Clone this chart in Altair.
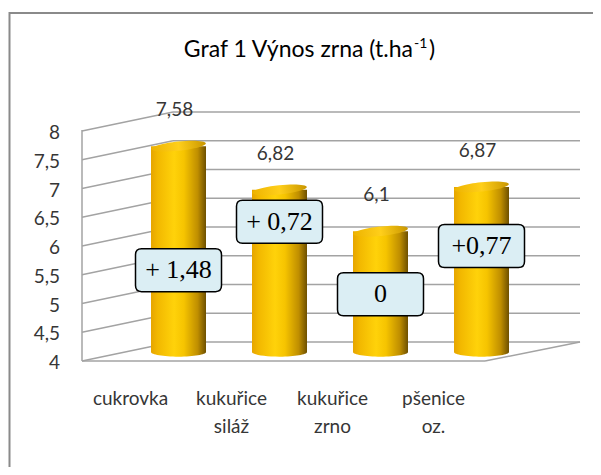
import altair as alt
import pandas as pd

# ---- data ----
categories = ["cukrovka", "kukuřice\nsiláž", "kukuřice\nzrno", "pšenice\noz."]
yields = [7.58, 6.82, 6.1, 6.87]
diff_labels = ["+ 1,48", "+ 0,72", "0", "+0,77"]
diff_anchor = [5.25, 6.09, 4.83, 5.67]          # where the annotation boxes sit (t/ha)
y_ticks = [4, 4.5, 5, 5.5, 6, 6.5, 7, 7.5, 8]
y_tick_labels = ["4", "4,5", "5", "5,5", "6", "6,5", "7", "7,5", "8"]
title_main = "Graf 1 Výnos zrna (t.ha"
title_sup = "-1"
title_end = ")"

df = pd.DataFrame({
    "cat": categories,
    "value": yields,
    "label": [f"{v:g}".replace(".", ",") for v in yields],
    "diff": diff_labels,
    "anchor": diff_anchor,
})
grid_df = pd.DataFrame({"tick": y_ticks, "tlabel": y_tick_labels})
one = pd.DataFrame({"k": [0]})

# ---- styling ----
W, H = 498, 230
GRID = "#A3A3A3"
TXT = "#363636"
FONT = "Lato"

def grad(stops):
    return {"gradient": "linear", "x1": 0, "x2": 1, "y1": 0, "y2": 0,
            "stops": [{"offset": o, "color": c} for o, c in stops]}

BODY = grad([(0, "#E6A500"), (0.12, "#F2B800"), (0.42, "#FFD20A"),
             (0.6, "#F6C400"), (0.85, "#BF8E00"), (1, "#6E5000")])
TOP = grad([(0, "#EDB300"), (0.5, "#FFCF1A"), (1, "#C99600")])

k = 0.5523
r = 0.17
ELLIPSE = (f"M-1,0 C-1,{-r*k:.4f} {-k:.4f},{-r} 0,{-r} "
           f"C{k:.4f},{-r} 1,{-r*k:.4f} 1,0 "
           f"C1,{r*k:.4f} {k:.4f},{r} 0,{r} "
           f"C{-k:.4f},{r} -1,{r*k:.4f} -1,0 Z")
BOX = ("M-0.86,-0.5 L0.86,-0.5 Q1,-0.5 1,-0.36 L1,0.36 Q1,0.5 0.86,0.5 "
       "L-0.86,0.5 Q-1,0.5 -1,0.36 L-1,-0.36 Q-1,-0.5 -0.86,-0.5 Z")

yscale = alt.Scale(domain=[4, 8], zero=False, nice=False)
xscale = alt.Scale(domain=categories, range=[46, 450], paddingInner=0.1, paddingOuter=0.05)
X = alt.X("cat:N", scale=xscale, axis=None, sort=categories)

frame = alt.Chart(one).mark_rect(fillOpacity=0, stroke="#8A8A8A", strokeWidth=2).encode(
    x=alt.value(-72.5), x2=alt.value(640), y=alt.value(-99), y2=alt.value(600))

back = alt.Chart(grid_df).mark_rule(color=GRID, strokeWidth=1.3).encode(
    y=alt.Y("tick:Q", scale=yscale, axis=alt.Axis(
        labels=False, domain=False, ticks=False, grid=False, title=None)),
    x=alt.value(91), x2=alt.value(W))

ytext = alt.Chart(grid_df).mark_text(font=FONT, fontSize=19, color=TXT, align="right",
                                     baseline="middle", dy=21).encode(
    y=alt.Y("tick:Q", scale=yscale, axis=None), x=alt.value(-22), text="tlabel:N")

side = alt.Chart(grid_df).mark_rule(color=GRID, strokeWidth=1.3, yOffset=19, y2Offset=0).encode(
    y=alt.Y("tick:Q", scale=yscale, axis=None), y2="tick:Q",
    x=alt.value(0), x2=alt.value(91))

left_edge = alt.Chart(one).mark_rule(color=GRID, strokeWidth=1.5, yOffset=18, y2Offset=19).encode(
    x=alt.value(0), y=alt.datum(8), y2=alt.datum(4))

floor_front = alt.Chart(one).mark_rule(color=GRID, strokeWidth=1.5, yOffset=19, y2Offset=19).encode(
    x=alt.value(0), x2=alt.value(403), y=alt.datum(4), y2=alt.datum(4))

floor_right = alt.Chart(one).mark_rule(color=GRID, strokeWidth=1.5, yOffset=19, y2Offset=0).encode(
    x=alt.value(403), x2=alt.value(W), y=alt.datum(4), y2=alt.datum(4))

bottoms = alt.Chart(df).mark_point(shape=ELLIPSE, size=55 ** 2, filled=True, fill=BODY,
                                   opacity=1, strokeWidth=0, yOffset=10).encode(
    x=X, y=alt.datum(4))

bars = alt.Chart(df).mark_bar(size=55, fill=BODY, yOffset=10, y2Offset=10).encode(
    x=X, y=alt.Y("value:Q", scale=yscale, axis=None), y2=alt.datum(4))

tops = alt.Chart(df).mark_point(shape=ELLIPSE, size=55 ** 2, filled=True, fill=TOP,
                                opacity=1, strokeWidth=0, yOffset=10, angle=354).encode(
    x=X, y=alt.Y("value:Q", scale=yscale, axis=None))

value_labels = alt.Chart(df).mark_text(font=FONT, fontSize=19, color=TXT, dy=-26, dx=-4,
                                       baseline="middle").encode(
    x=X, y=alt.Y("value:Q", scale=yscale, axis=None), text="label:N")

boxes = alt.Chart(df).mark_point(shape=BOX, size=86 ** 2, filled=True, fill="#DBEEF4",
                                 stroke="#000000", strokeWidth=1.5, opacity=1).encode(
    x=X, y=alt.Y("anchor:Q", scale=yscale, axis=None))

box_text = alt.Chart(df).mark_text(font="Liberation Serif", fontSize=26, color="#000000",
                                   baseline="middle").encode(
    x=X, y=alt.Y("anchor:Q", scale=yscale, axis=None), text="diff:N")

cat_labels = alt.Chart(df).mark_text(font=FONT, fontSize=19, color=TXT, lineBreak="\n",
                                     lineHeight=28, dx=-48, baseline="alphabetic",
                                     align="center").encode(
    x=X, y=alt.value(293), text="cat:N")

t1 = alt.Chart(one).mark_text(font=FONT, fontSize=23, color="#000000",
                              align="right", baseline="alphabetic").encode(
    x=alt.value(331), y=alt.value(-55), text=alt.value(title_main))
t2 = alt.Chart(one).mark_text(font=FONT, fontSize=14, color="#000000",
                              align="left", baseline="alphabetic").encode(
    x=alt.value(332), y=alt.value(-64), text=alt.value(title_sup))
t3 = alt.Chart(one).mark_text(font=FONT, fontSize=23, color="#000000",
                              align="left", baseline="alphabetic").encode(
    x=alt.value(347), y=alt.value(-55), text=alt.value(title_end))

chart = alt.layer(
    frame, back, side, left_edge, floor_front, floor_right, ytext,
    bottoms, bars, tops, value_labels, boxes, box_text, cat_labels, t1, t2, t3
).properties(
    width=W, height=H,
    autosize=alt.AutoSizeParams(type="none"),
    padding={"left": 74, "top": 104, "right": 13, "bottom": 125},
    background="white",
).configure_view(strokeWidth=0)

chart.save("out.html", embed_options={"renderer": "svg", "actions": False})
